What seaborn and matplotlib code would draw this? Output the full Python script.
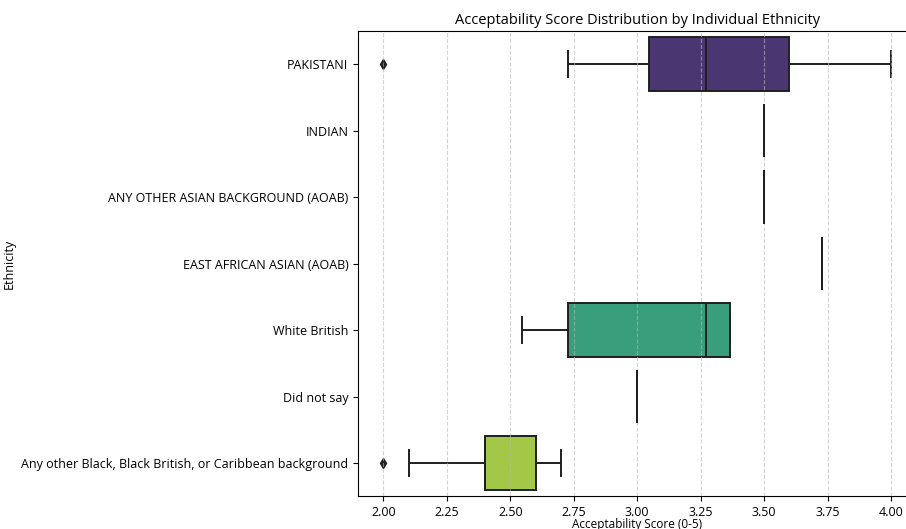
import numpy as np
import pandas as pd
import matplotlib
matplotlib.use("Agg")
import matplotlib.pyplot as plt
import seaborn as sns

categories = [
    "PAKISTANI",
    "INDIAN",
    "ANY OTHER ASIAN BACKGROUND (AOAB)",
    "EAST AFRICAN ASIAN (AOAB)",
    "White British",
    "Did not say",
    "Any other Black, Black British, or Caribbean background",
]
pakistani = [2.0, 2.727, 3.045, 3.1, 3.273, 3.5, 3.6, 3.8, 4.0]
indian = [3.5]
aoab = [3.5]
east_african = [3.727]
white_british = [2.545, 2.727, 3.273, 3.364, 3.364]
did_not_say = [3.0]
black_other = [2.0, 2.1, 2.4, 2.4, 2.4, 2.5, 2.6, 2.7, 2.7]

series = [pakistani, indian, aoab, east_african, white_british, did_not_say, black_other]
df = pd.DataFrame({
    "Ethnicity": [c for c, vals in zip(categories, series) for _ in vals],
    "Score": [v for vals in series for v in vals],
})

plt.rcParams["font.family"] = ["Open Sans", "DejaVu Sans"]

fig = plt.figure(figsize=(9.06, 5.29), dpi=100)
ax = fig.add_axes([358 / 906, 1 - 496.25 / 529, (916.4 - 358) / 906, (496.25 - 30.75) / 529])

sns.boxplot(
    data=df, x="Score", y="Ethnicity", hue="Ethnicity", order=categories,
    hue_order=categories, palette="viridis", legend=False, ax=ax,
    linecolor="0.12", linewidth=1.4,
    flierprops=dict(marker="d", markerfacecolor="0.12", markeredgecolor="0.12", markersize=5),
)
# grid above box fills, but single-value boxes (drawn as lines) stay on top
ax.grid(axis="x", linestyle="--", color="0.72", alpha=0.6, linewidth=0.8)
ax.xaxis.set_zorder(2.05)
ax.yaxis.set_zorder(2.05)
for p in ax.patches:
    ext = p.get_path().get_extents(p.get_transform())
    if ext.width < 1.0:
        p.set_zorder(3)

ax.set_xlim(1.9, 4.1)
ax.set_xticks([2.0, 2.25, 2.5, 2.75, 3.0, 3.25, 3.5, 3.75, 4.0])
ax.set_xticklabels(["2.00", "2.25", "2.50", "2.75", "3.00", "3.25", "3.50", "3.75", "4.00"])
ax.tick_params(labelsize=9)
ax.set_title("Acceptability Score Distribution by Individual Ethnicity", fontsize=10.5, pad=5)
ax.set_xlabel("Acceptability Score (0-5)", fontsize=8.5, labelpad=-1)
ax.set_ylabel("Ethnicity", fontsize=9)

fig.savefig("out.png", dpi=100)
